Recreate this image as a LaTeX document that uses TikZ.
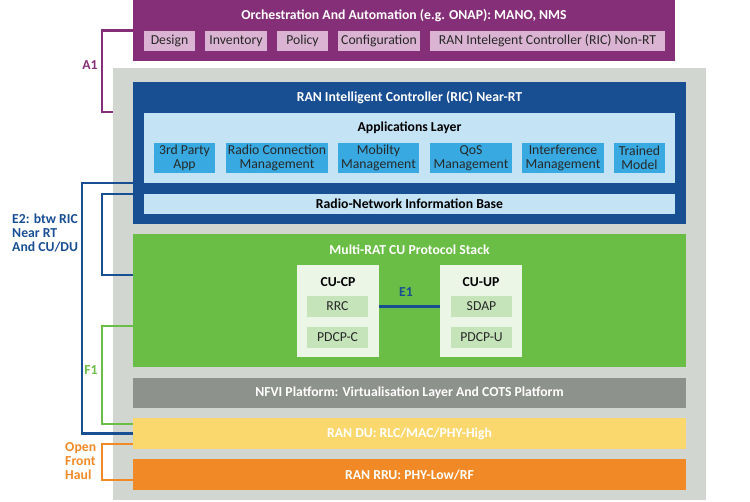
\documentclass[tikz,border=0pt]{standalone}
\usepackage{fontspec}
\setmainfont{Carlito}
\usepackage{xcolor}
\usepackage{tikz}
\usetikzlibrary{positioning}
\definecolor{orch-purple}{RGB}{134,47,121}
\definecolor{orch-pink}{RGB}{218,180,210}
\definecolor{back-gray}{RGB}{210,214,208}
\definecolor{ric-blue}{RGB}{24,78,146}
\definecolor{ric-light}{RGB}{196,227,245}
\definecolor{app-blue}{RGB}{56,170,225}
\definecolor{cu-green}{RGB}{106,189,69}
\definecolor{cu-white}{RGB}{236,246,230}
\definecolor{cu-inner}{RGB}{198,228,186}
\definecolor{nfvi-gray}{RGB}{142,146,140}
\definecolor{du-yellow}{RGB}{250,216,110}
\definecolor{rru-orange}{RGB}{241,138,38}
\definecolor{txt-dark}{RGB}{40,40,40}
\tikzstyle{layer} = [rectangle, inner sep=0pt, text=white, font=\fontsize{11.7}{13}\selectfont\bfseries]
\tikzstyle{title} = [inner sep=0pt, text=white, font=\fontsize{11.7}{13}\selectfont\bfseries]
\tikzstyle{tool}  = [rectangle, inner sep=0pt, fill=orch-pink, text=txt-dark, font=\fontsize{11.7}{13}\selectfont]
\tikzstyle{app}   = [rectangle, inner sep=0pt, fill=app-blue, text=txt-dark, align=center, font=\fontsize{11.7}{11.5}\selectfont]
\tikzstyle{proto} = [rectangle, inner sep=0pt, fill=cu-inner, text=txt-dark, font=\fontsize{11.7}{13}\selectfont]
\tikzstyle{link}  = [line width=1.8pt]
\tikzstyle{iface} = [inner sep=0pt, align=left, font=\fontsize{11.7}{11.8}\selectfont\bfseries]

\begin{document}
\begin{tikzpicture}[x=0.03cm, y=-0.03cm]
    \useasboundingbox (0,0) rectangle (750,502);

    % ===============================
    % 1. NODES
    % ===============================

    % Orchestration (top)
    \node[layer, fill=orch-purple, minimum width=542*0.03cm, minimum height=61*0.03cm] (orch) at (404,30.5) {};
    \node[title] (orchlabel) at (404,16) {Orchestration And Automation (e.g. ONAP): MANO, NMS};
    \node[tool, minimum width=51*0.03cm, minimum height=20*0.03cm] (design) at (169.5,41) {Design};
    \node[tool, minimum width=62*0.03cm, minimum height=20*0.03cm] (inventory) at (236,41) {Inventory};
    \node[tool, minimum width=51*0.03cm, minimum height=20*0.03cm] (policy) at (302.5,41) {Policy};
    \node[tool, minimum width=82*0.03cm, minimum height=20*0.03cm] (config) at (379,41) {Configuration};
    \node[tool, minimum width=235*0.03cm, minimum height=20*0.03cm] (nonrt) at (547.5,41) {RAN Intelegent Controller (RIC) Non-RT};

    % Gray platform background
    \node[layer, fill=back-gray, minimum width=593*0.03cm, minimum height=432*0.03cm] (back) at (409.5,284) {};

    % -------------------------------
    % RIC Near-RT
    % -------------------------------
    \node[layer, fill=ric-blue, minimum width=553*0.03cm, minimum height=142*0.03cm] (ric) at (409.5,153) {};
    \node[title] (riclabel) at (409.5,98) {RAN Intelligent Controller (RIC) Near-RT};
    \node[layer, fill=ric-light, minimum width=531*0.03cm, minimum height=70*0.03cm] (apps) at (409.5,148) {};
    \node[title, text=black] (appslabel) at (409.5,128) {Applications Layer};
    \node[app, minimum width=61*0.03cm, minimum height=30*0.03cm] (thirdparty) at (184.5,158) {3rd Party\\App};
    \node[app, minimum width=102*0.03cm, minimum height=30*0.03cm] (radioconn) at (277,158) {Radio Connection\\Management};
    \node[app, minimum width=81*0.03cm, minimum height=30*0.03cm] (mobility) at (378.5,158) {Mobilty\\Management};
    \node[app, minimum width=82*0.03cm, minimum height=30*0.03cm] (qos) at (471,158) {QoS\\Management};
    \node[app, minimum width=82*0.03cm, minimum height=30*0.03cm] (interf) at (563,158) {Interference\\Management};
    \node[app, minimum width=51*0.03cm, minimum height=30*0.03cm] (trained) at (639.5,158) {Trained\\Model};
    \node[layer, fill=ric-light, text=black, minimum width=531*0.03cm, minimum height=20*0.03cm] (rnib) at (409.5,204) {Radio-Network Information Base};

    % -------------------------------
    % Multi-RAT CU
    % -------------------------------
    \node[layer, fill=cu-green, minimum width=553*0.03cm, minimum height=133*0.03cm] (cu) at (409.5,300.5) {};
    \node[title] (culabel) at (409.5,250) {Multi-RAT CU Protocol Stack};
    \node[layer, fill=cu-white, minimum width=82*0.03cm, minimum height=92*0.03cm] (cucp) at (338,311) {};
    \node[title, text=black] (cucplabel) at (338,282) {CU-CP};
    \node[proto, minimum width=61*0.03cm, minimum height=21*0.03cm] (rrc) at (337.5,306.5) {RRC};
    \node[proto, minimum width=61*0.03cm, minimum height=21*0.03cm] (pdcpc) at (337.5,337) {PDCP-C};
    \node[layer, fill=cu-white, minimum width=82*0.03cm, minimum height=92*0.03cm] (cuup) at (481,311) {};
    \node[title, text=black] (cuuplabel) at (481,282) {CU-UP};
    \node[proto, minimum width=61*0.03cm, minimum height=21*0.03cm] (sdap) at (481.5,306.5) {SDAP};
    \node[proto, minimum width=61*0.03cm, minimum height=21*0.03cm] (pdcpu) at (481.5,337) {PDCP-U};

    % -------------------------------
    % Lower layers
    % -------------------------------
    \node[layer, fill=nfvi-gray, minimum width=553*0.03cm, minimum height=30*0.03cm] (nfvi) at (409.5,393) {NFVI Platform: Virtualisation Layer And COTS Platform};
    \node[layer, fill=du-yellow, minimum width=553*0.03cm, minimum height=31*0.03cm] (du) at (409.5,433.5) {RAN DU: RLC/MAC/PHY-High};
    \node[layer, fill=rru-orange, minimum width=553*0.03cm, minimum height=31*0.03cm] (rru) at (409.5,474.5) {RAN RRU: PHY-Low/RF};

    % ===============================
    % 2. CONNECTIONS
    % ===============================

    % A1
    \coordinate (a1foot) at (102,112);
    \draw[link, draw=orch-purple] (orch.west) -| (a1foot) -- (a1foot -| back.west);
    \node[iface, text=orch-purple] (a1label) at (90,65) {A1};

    % E2 (RIC to CU and DU)
    \draw[link, draw=ric-blue] (ric.west |- apps.south) -- ++(-51,0) |- (du.west);
    \coordinate (e2foot) at (102,275);
    \draw[link, draw=ric-blue] (ric.west |- rnib.north) -| (e2foot) -- (e2foot -| cu.west);
    \node[iface, text=ric-blue, anchor=north west] (e2label) at (12,214) {E2: btw RIC\\Near RT\\And CU/DU};

    % E1
    \draw[link, draw=ric-blue] (cucp.east |- rrc) -- (cuup.west |- rrc);
    \node[iface, text=ric-blue] (e1label) at (406,292) {E1};

    % F1
    \coordinate (f1foot) at (102,424);
    \draw[link, draw=cu-green] (cu.west |- pdcpc.north) -| (f1foot) -- (f1foot -| du.west);
    \node[iface, text=cu-green] (f1label) at (91,370) {F1};

    % Open Front Haul
    \draw[link, draw=rru-orange] ([yshift=-0.315cm]du.west) -- ++(-31,0) |- ([yshift=-0.165cm]rru.west);
    \node[iface, text=rru-orange, anchor=west] (ofhlabel) at (65,461) {Open\\Front\\Haul};

\end{tikzpicture}
\end{document}
